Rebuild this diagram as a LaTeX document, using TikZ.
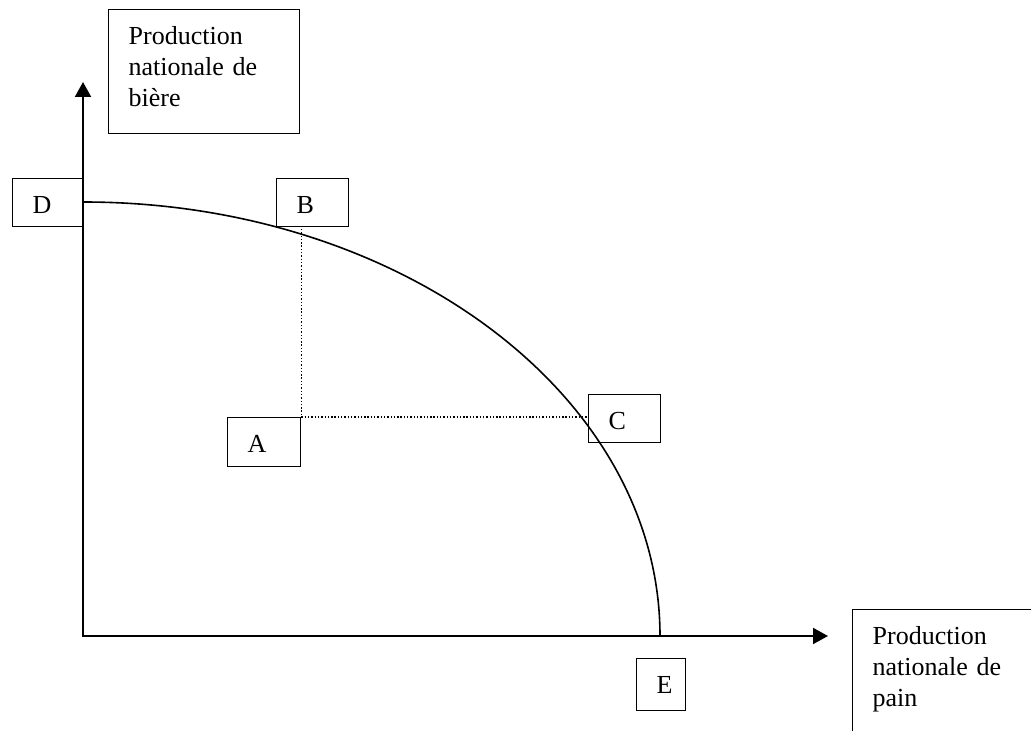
\documentclass[tikz,border=0pt]{standalone}
\usepackage{fontspec}
\setmainfont{Liberation Serif}
\usetikzlibrary{arrows.meta}

\begin{document}
\begin{tikzpicture}[x=1pt, y=1pt,
    kasten/.style={draw, line width=1.3pt, anchor=north west, align=left,
      inner xsep=20pt, inner ysep=0pt, text height=35pt,
      font=\fontsize{26}{31}\selectfont},
    achse/.style={line width=2pt, {Triangle[length=15pt,width=16pt]}-{Triangle[length=15pt,width=16pt]}},
    punkte/.style={line width=1.6pt, dash pattern=on 1.4pt off 1.9pt}]
  \useasboundingbox (0,0) rectangle (1031,731);
  % Achsen:
  \coordinate (O) at (83,95);
  \coordinate (yTip) at (83,649);
  \coordinate (xTip) at (828,95);
  \draw[achse] (yTip) -- (O) -- (xTip);
  % Kurve von D nach E:
  \coordinate (Dpt) at (83,529);
  \draw[line width=1.6pt] (Dpt) arc[start angle=90, end angle=0, x radius=577, y radius=434];
  \coordinate (Bpt) at (299,502); % Punkt unter B
  % Kaesten:
  \node[kasten, text width=151pt, text depth=89pt] (yLabel) at (108,722) {Production\\nationale de\\bière};
  \node[kasten, text width=31pt, text depth=13pt] (D) at (12,553) {D};
  \node[kasten, text width=32pt, text depth=13pt] (B) at (276,553) {B};
  \node[kasten, text width=33pt, text depth=14pt] (A) at (227,314) {A};
  \node[kasten, text width=32pt, text depth=13pt] (C) at (588,337) {C};
  \node[kasten, text width=9pt, text depth=17pt] (E) at (636,73) {E};
  \node[kasten, text width=151pt, text depth=89pt] (xLabel) at (852,122) {Production\\nationale de\\pain};
  % gepunktete Linien:
  \draw[punkte] (A.north east |- Bpt) -- (A.north east) -- (A.north east -| C.west);
\end{tikzpicture}
\end{document}
